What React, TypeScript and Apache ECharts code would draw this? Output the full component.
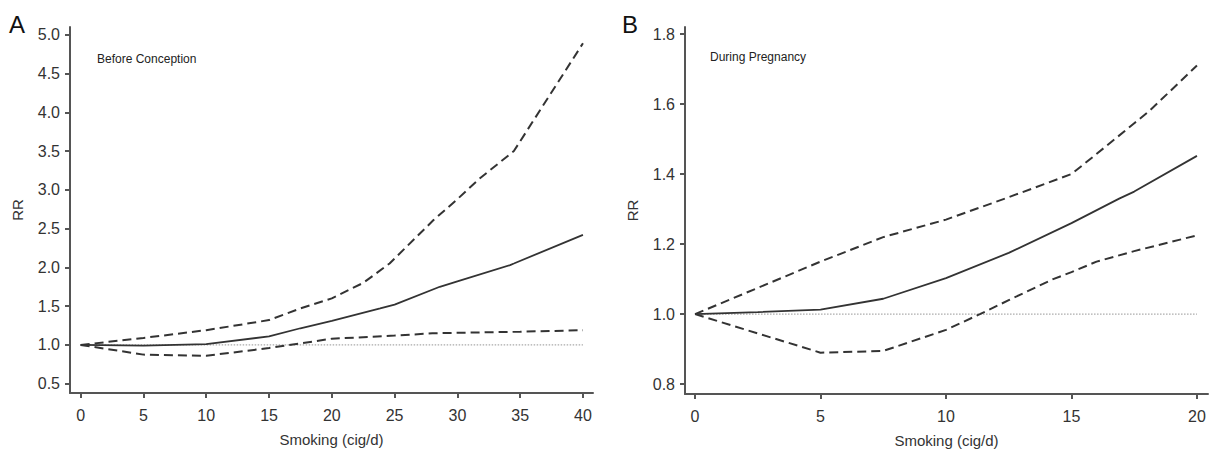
import React, { useEffect, useRef } from "react";
import * as echarts from "echarts";

// Panel A: Before Conception
const aX = [0, 5, 10, 15, 17.5, 20, 23.85, 25, 28.6, 30, 34.2, 34.5, 40];
const aRR = [1.0, 0.99, 1.01, 1.11, 1.215, 1.31, 1.47, 1.52, 1.75, 1.82, 2.03, 2.05, 2.42];
const aUpX = [0, 5, 10, 15, 17.5, 20, 22.5, 24.6, 28.1, 30, 31.8, 34.5, 40];
const aUp = [1.0, 1.09, 1.19, 1.32, 1.47, 1.6, 1.8, 2.05, 2.61, 2.88, 3.15, 3.5, 4.89];
const aLoX = [0, 5, 10, 15, 17.5, 20, 25, 28, 35, 40];
const aLo = [1.0, 0.875, 0.86, 0.96, 1.02, 1.08, 1.12, 1.15, 1.17, 1.19];

// Panel B: During Pregnancy
const bX = [0, 2.5, 5, 7.5, 10, 12.5, 15, 16.9, 17.5, 20];
const bRR = [1.0, 1.006, 1.013, 1.044, 1.103, 1.175, 1.26, 1.33, 1.35, 1.452];
const bUpX = [0, 2.5, 5, 7.5, 10, 12.35, 15, 15.87, 17.5, 18.1, 20];
const bUp = [1.0, 1.075, 1.15, 1.22, 1.27, 1.33, 1.4, 1.45, 1.545, 1.58, 1.71];
const bLoX = [0, 5, 7.5, 10, 11.35, 12.5, 14.27, 15, 16, 17.5, 20];
const bLo = [1.0, 0.89, 0.895, 0.955, 1.0, 1.04, 1.1, 1.12, 1.15, 1.18, 1.225];

const aXTicks = [0, 5, 10, 15, 20, 25, 30, 35, 40];
const aYTicks = [0.5, 1.0, 1.5, 2.0, 2.5, 3.0, 3.5, 4.0, 4.5, 5.0];
const bXTicks = [0, 5, 10, 15, 20];
const bYTicks = [0.8, 1.0, 1.2, 1.4, 1.6, 1.8];

const pair = (xs: number[], ys: number[]) => xs.map((x, i) => [x, ys[i]]);

const FONT = "Liberation Sans, Arial, sans-serif";
const AXIS_COLOR = "#555";
const LINE_COLOR = "#333";
const TEXT_COLOR = "#333";

function xAxis(gridIndex: number, min: number, max: number, ticks: number[]) {
  return {
    type: "value",
    gridIndex,
    min,
    max,
    name: "Smoking (cig/d)",
    nameLocation: "middle",
    nameGap: 39,
    nameTextStyle: { fontFamily: FONT, fontSize: 15, color: TEXT_COLOR },
    axisLine: { show: true, onZero: false, lineStyle: { color: AXIS_COLOR, width: 2 } },
    axisTick: { show: true, length: 5, customValues: ticks, lineStyle: { color: AXIS_COLOR, width: 2 } },
    axisLabel: {
      customValues: ticks,
      margin: 14,
      fontFamily: FONT,
      fontSize: 16,
      color: TEXT_COLOR,
    },
    splitLine: { show: false },
  };
}

function yAxis(gridIndex: number, min: number, max: number, ticks: number[]) {
  return {
    type: "value",
    gridIndex,
    min,
    max,
    name: "RR",
    nameLocation: "middle",
    nameRotate: 90,
    nameGap: 45,
    nameTextStyle: { fontFamily: FONT, fontSize: 15, color: TEXT_COLOR },
    axisLine: { show: true, onZero: false, lineStyle: { color: AXIS_COLOR, width: 2 } },
    axisTick: { show: true, length: 5, customValues: ticks, lineStyle: { color: AXIS_COLOR, width: 2 } },
    axisLabel: {
      customValues: ticks,
      margin: 10,
      fontFamily: FONT,
      fontSize: 16,
      color: TEXT_COLOR,
      formatter: (v: number) => v.toFixed(1),
    },
    splitLine: { show: false },
  };
}

function lineSeries(idx: number, data: number[][], type: string) {
  return {
    type: "line",
    xAxisIndex: idx,
    yAxisIndex: idx,
    data,
    showSymbol: false,
    symbol: "none",
    smooth: false,
    lineStyle: {
      color: LINE_COLOR,
      width: type === "solid" ? 1.8 : 2,
      type: type === "solid" ? "solid" : [9, 5],
    },
    z: 3,
  };
}

function refSeries(idx: number, xmax: number) {
  return {
    type: "line",
    xAxisIndex: idx,
    yAxisIndex: idx,
    data: [
      [0, 1],
      [xmax, 1],
    ],
    symbol: "none",
    lineStyle: { color: "#aaa", width: 1.2, type: [1.5, 1.5] },
    z: 2,
  };
}

export default function App() {
  const ref = useRef<HTMLDivElement>(null);
  useEffect(() => {
    if (!ref.current) return;
    const chart = echarts.init(ref.current, undefined, { renderer: "svg" });
    chart.setOption({
      animation: false,
      backgroundColor: "#fff",
      grid: [
        { left: 70, top: 27, width: 523, height: 366, outerBoundsMode: "none", containLabel: false },
        { left: 685, top: 27, width: 523, height: 367, outerBoundsMode: "none", containLabel: false },
      ],
      xAxis: [xAxis(0, -0.85, 40.8, aXTicks), xAxis(1, -0.4, 20.44, bXTicks)],
      yAxis: [yAxis(0, 0.38, 5.1, aYTicks), yAxis(1, 0.772, 1.82, bYTicks)],
      series: [
        refSeries(0, 40),
        lineSeries(0, pair(aX, aRR), "solid"),
        lineSeries(0, pair(aUpX, aUp), "dashed"),
        lineSeries(0, pair(aLoX, aLo), "dashed"),
        refSeries(1, 20),
        lineSeries(1, pair(bX, bRR), "solid"),
        lineSeries(1, pair(bUpX, bUp), "dashed"),
        lineSeries(1, pair(bLoX, bLo), "dashed"),
      ],
      graphic: [
        { type: "text", left: 9, top: 12, style: { text: "A", fontFamily: FONT, fontSize: 24, fill: "#111" } },
        { type: "text", left: 622, top: 12, style: { text: "B", fontFamily: FONT, fontSize: 24, fill: "#111" } },
        { type: "text", left: 97, top: 53, style: { text: "Before Conception", fontFamily: FONT, fontSize: 12, fill: "#222" } },
        { type: "text", left: 710, top: 51, style: { text: "During Pregnancy", fontFamily: FONT, fontSize: 12, fill: "#222" } },
      ],
    });
    return () => chart.dispose();
  }, []);
  return (
    <div
      ref={ref}
      style={{ position: "fixed", left: 0, top: 0, width: 1213, height: 449, background: "#fff" }}
    />
  );
}
